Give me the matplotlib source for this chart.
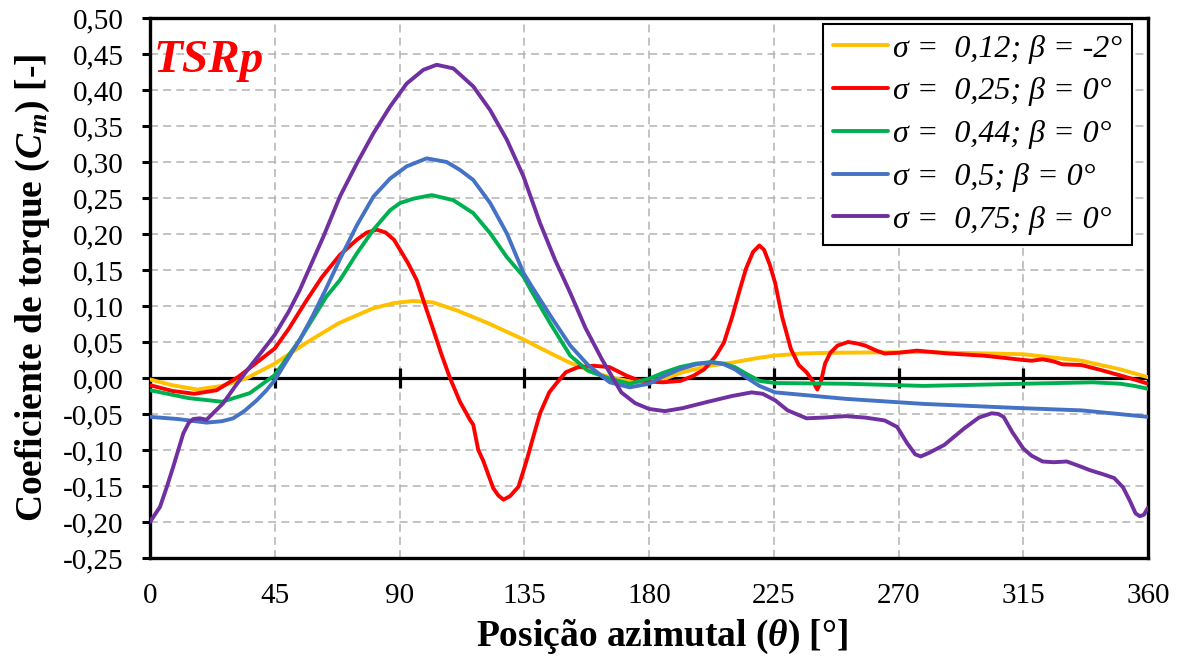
import matplotlib
matplotlib.use("Agg")
import matplotlib.pyplot as plt
from matplotlib.ticker import FuncFormatter, MultipleLocator

plt.rcParams['font.family'] = ['Liberation Serif', 'DejaVu Serif']
plt.rcParams['mathtext.fontset'] = 'custom'
plt.rcParams['mathtext.rm'] = 'Liberation Serif:bold'
plt.rcParams['mathtext.it'] = 'Liberation Serif:italic:bold'
plt.rcParams['mathtext.bf'] = 'Liberation Serif:bold'

# ---- data (theta in degrees, Cm) ----
x_012 = [0, 8, 17, 26, 35, 45, 56, 68, 80.6, 88, 95, 102, 110.6, 122, 135, 141, 151,
         160, 166, 175, 185, 192, 202, 211, 218, 225, 235, 245, 279, 315, 336, 350, 360]
cm_012 = [-0.002, -0.010, -0.016, -0.011, 0.000, 0.020, 0.048, 0.076, 0.097, 0.104,
          0.107, 0.105, 0.094, 0.076, 0.053, 0.041, 0.022, 0.008, 0.001, -0.006,
          -0.002, 0.008, 0.017, 0.022, 0.027, 0.031, 0.034, 0.035, 0.036, 0.033,
          0.024, 0.012, 0.001]

x_025 = [0, 8, 16, 24, 32, 38, 45, 50, 56, 62, 68.5, 74.6, 78.2, 81.8, 85, 88, 90.2,
         93, 96.2, 99.2, 102.2, 105.2, 108.2, 111.8, 115.4, 116.6, 118.4, 120.2,
         123.8, 125.6, 127.5, 129.9, 132.9, 135.9, 138.3, 140.7, 144, 147.3, 150,
         154.4, 160, 165.8, 172, 176, 180, 185, 191.4, 196, 199.9, 204, 207, 210,
         212.7, 215, 217.5, 219.8, 221.5, 223.5, 225.5, 228, 231.2, 234, 236.8, 239,
         240.7, 242, 243.5, 245.4, 248, 251.8, 255, 258, 262, 265, 270, 276.6, 288,
         300.8, 308, 315, 318, 322, 326, 329, 336, 343, 350.5, 355, 360]
cm_025 = [-0.010, -0.018, -0.022, -0.017, 0.002, 0.020, 0.041, 0.068, 0.105, 0.140,
          0.171, 0.192, 0.202, 0.206, 0.202, 0.192, 0.178, 0.160, 0.136, 0.101,
          0.067, 0.032, 0.000, -0.033, -0.058, -0.065, -0.100, -0.115, -0.153, -0.163,
          -0.169, -0.164, -0.151, -0.114, -0.081, -0.049, -0.020, -0.004, 0.008,
          0.015, 0.017, 0.015, 0.003, -0.003, -0.005, -0.006, -0.004, 0.003, 0.012,
          0.030, 0.049, 0.085, 0.122, 0.152, 0.175, 0.184, 0.178, 0.158, 0.132,
          0.085, 0.040, 0.018, 0.008, -0.004, -0.016, -0.005, 0.020, 0.035, 0.045,
          0.050, 0.048, 0.045, 0.038, 0.034, 0.035, 0.038, 0.034, 0.031, 0.028,
          0.025, 0.024, 0.026, 0.023, 0.019, 0.018, 0.011, 0.003, -0.002, -0.008]

x_044 = [0, 14, 26, 36, 45, 54, 63.6, 68.5, 74.6, 80.6, 86.6, 90.2, 95, 101.6, 109.4,
         116.6, 122.7, 128.7, 134.7, 137.4, 144.5, 151.6, 158, 165.8, 173, 180, 185,
         191, 197, 202.7, 207, 211, 215, 219.8, 225.5, 251, 279, 315, 340, 350, 355, 360]
cm_044 = [-0.017, -0.028, -0.033, -0.021, 0.004, 0.053, 0.113, 0.136, 0.173, 0.206,
          0.233, 0.243, 0.249, 0.254, 0.247, 0.229, 0.201, 0.168, 0.141, 0.122,
          0.075, 0.031, 0.010, -0.001, -0.008, -0.001, 0.007, 0.015, 0.020, 0.022,
          0.020, 0.015, 0.006, -0.004, -0.007, -0.008, -0.011, -0.008, -0.006,
          -0.008, -0.011, -0.015]

x_050 = [0, 10, 20.4, 26, 30, 34, 38.5, 42, 45, 49, 54, 58.5, 63, 68.5, 74.6, 80.6,
         86.6, 92.6, 99.8, 107, 111.8, 116.6, 122.7, 128.7, 134.7, 137.4, 144.5, 151.6,
         158, 165.8, 173, 180, 185, 191, 197, 202.7, 207, 211, 215, 219.8, 225.5, 251,
         279, 315, 336, 360]
cm_050 = [-0.054, -0.057, -0.062, -0.060, -0.056, -0.046, -0.031, -0.017, -0.003,
          0.022, 0.053, 0.085, 0.120, 0.165, 0.212, 0.252, 0.277, 0.294, 0.305,
          0.300, 0.289, 0.275, 0.243, 0.201, 0.146, 0.129, 0.086, 0.045, 0.018,
          -0.006, -0.013, -0.008, 0.002, 0.012, 0.019, 0.022, 0.019, 0.012, 0.001,
          -0.011, -0.020, -0.029, -0.036, -0.042, -0.045, -0.054]

x_075 = [0, 3.6, 6, 8.4, 12, 14, 15.6, 18, 20.4, 23, 26.4, 31, 36.1, 40, 45, 50, 54,
         62.5, 68.5, 74.6, 80.6, 86.6, 92.6, 98.6, 103.4, 109.4, 116.6, 122.7, 128.7,
         134.7, 140.7, 146, 151.6, 157, 163, 170, 175, 180, 185.7, 192, 201.3, 210,
         217, 221, 225.5, 230, 236.8, 243, 251, 258, 265, 269.5, 273, 276, 278, 281,
         286.5, 293.7, 299, 303.6, 306, 307.9, 311, 315, 318, 322, 326, 330.7, 335,
         339, 344, 347.8, 351, 353.5, 355.5, 357, 358.5, 360]
cm_075 = [-0.200, -0.179, -0.152, -0.123, -0.077, -0.062, -0.057, -0.056, -0.058,
          -0.048, -0.035, -0.010, 0.016, 0.035, 0.060, 0.092, 0.122, 0.196, 0.252,
          0.298, 0.340, 0.377, 0.409, 0.428, 0.435, 0.430, 0.405, 0.372, 0.331,
          0.280, 0.215, 0.165, 0.118, 0.070, 0.026, -0.020, -0.035, -0.043, -0.046,
          -0.042, -0.033, -0.025, -0.020, -0.022, -0.031, -0.045, -0.056, -0.055,
          -0.053, -0.055, -0.059, -0.068, -0.090, -0.106, -0.109, -0.104, -0.093,
          -0.070, -0.055, -0.049, -0.050, -0.054, -0.075, -0.098, -0.108, -0.116,
          -0.117, -0.116, -0.122, -0.128, -0.134, -0.139, -0.152, -0.171, -0.188,
          -0.192, -0.190, -0.180]

labels = ['σ =  0,12; β = -2°', 'σ =  0,25; β = 0°', 'σ =  0,44; β = 0°',
          'σ =  0,5; β = 0°', 'σ =  0,75; β = 0°']
colors = ['#FFC000', '#FF0000', '#00B050', '#4472C4', '#7030A0']
series = [(x_012, cm_012), (x_025, cm_025), (x_044, cm_044),
          (x_050, cm_050), (x_075, cm_075)]

x_ticks = list(range(0, 361, 45))

fig = plt.figure(figsize=(11.85, 6.59), dpi=100)
ax = fig.add_axes([0.1266, 0.1533, 0.8422, 0.8194])

ax.set_xlim(0, 360)
ax.set_ylim(-0.25, 0.50)
ax.set_xticks(x_ticks)
ax.yaxis.set_major_locator(MultipleLocator(0.05))
ax.yaxis.set_major_formatter(FuncFormatter(lambda v, p: f"{v:.2f}".replace('.', ',')))

ax.grid(True, color='#B3B3B3', linewidth=1.1, linestyle=(0, (5.2, 3.4)), zorder=0)
ax.set_axisbelow(True)

for s in ax.spines.values():
    s.set_linewidth(2.4)
    s.set_color('black')

ax.tick_params(axis='x', length=0, pad=18, labelsize=21)
ax.tick_params(axis='y', length=6, width=2.2, direction='out', pad=13, labelsize=21)

# zero line with crossing tick marks
ax.axhline(0, color='black', linewidth=2.3, zorder=2)
ax.plot(x_ticks[1:-1], [0] * (len(x_ticks) - 2), linestyle='none', marker='|',
        markersize=14, markeredgewidth=2.3, color='black', zorder=2)

for (xs, ys), c, lab in zip(series, colors, labels):
    ax.plot(xs, ys, color=c, linewidth=2.8, label=lab, zorder=3,
            solid_joinstyle='round', solid_capstyle='round')

ax.text(0.004, 0.9, 'TSRp', transform=ax.transAxes, color='#FF0000',
        fontsize=34, fontweight='bold', fontstyle='italic', va='baseline', ha='left')

leg = ax.legend(loc='upper right', bbox_to_anchor=(0.984, 0.989),
                prop={'family': 'Liberation Serif', 'style': 'italic', 'size': 23},
                handlelength=1.7, handletextpad=0.16, labelspacing=0.42,
                borderpad=0.32, borderaxespad=0, fancybox=False, framealpha=1)
leg.get_frame().set_edgecolor('black')
leg.get_frame().set_linewidth(1.5)
leg.set_zorder(5)

ax.set_xlabel(r'Posição azimutal ($\theta$) [°]', fontsize=27, fontweight='bold',
              labelpad=6, x=0.513)
ax.set_ylabel(r'Coeficiente de torque ($C_m$) [-]', fontsize=27, fontweight='bold',
              labelpad=8)

fig.savefig('out.png', dpi=100)
